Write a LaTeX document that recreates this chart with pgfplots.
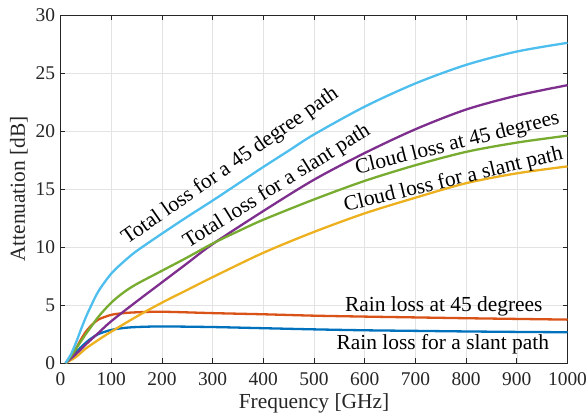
\documentclass[border=0pt]{standalone}
\usepackage{pgfplots}
\pgfplotsset{compat=1.18}
\usepackage{fontspec}
\setmainfont{Liberation Serif}
\definecolor{mblue}{rgb}{0,0.447,0.741}
\definecolor{mred}{rgb}{0.85,0.325,0.098}
\definecolor{myellow}{rgb}{0.929,0.694,0.125}
\definecolor{mpurple}{rgb}{0.494,0.184,0.556}
\definecolor{mgreen}{rgb}{0.466,0.674,0.188}
\definecolor{mcyan}{rgb}{0.301,0.745,0.933}
\definecolor{axgray}{rgb}{0.15,0.15,0.15}
\newcommand{\lbl}{\fontsize{21.5}{24}\selectfont}
\begin{document}
\begin{tikzpicture}
\begin{axis}[
  at={(0,0)}, anchor=south west,
  width=507bp, height=348bp, scale only axis,
  xmin=0, xmax=1000, ymin=0, ymax=30,
  xtick={0,100,...,1000}, ytick={0,5,...,30},
  grid=major, major grid style={color=black!11, line width=0.6bp},
  axis line style={color=axgray, line width=0.9bp},
  tick style={color=axgray, line width=0.7bp},
  major tick length=5bp,
  tick pos=both,
  tick align=inside,
  /pgf/number format/assume math mode=true,
  /pgf/number format/1000 sep={},
  ticklabel style={font=\fontsize{19.5}{22}\selectfont, text=axgray},
  xticklabel style={yshift=-6bp},
  yticklabel style={xshift=-2bp},
  xlabel={Frequency [GHz]}, ylabel={Attenuation [dB]},
  label style={font=\lbl, text=axgray},
  xlabel style={yshift=-1bp},
  ylabel style={yshift=1bp},
  every axis plot/.append style={line width=2.3bp, smooth},
  clip=true,
]
% Rain loss for a slant path
\addplot[mblue] coordinates {(10,0) (20,0.4) (30,0.9) (40,1.35) (50,1.75) (60,2.1) (75,2.5) (100,2.85) (125,3.02) (150,3.1) (200,3.15) (300,3.1) (400,3.0) (500,2.9) (600,2.82) (700,2.77) (800,2.72) (900,2.68) (1000,2.65)};
% Rain loss at 45 degrees
\addplot[mred] coordinates {(10,0) (20,0.5) (30,1.2) (40,2.0) (50,2.7) (60,3.2) (75,3.75) (100,4.15) (125,4.3) (150,4.37) (200,4.42) (300,4.3) (400,4.2) (500,4.08) (600,4.0) (700,3.93) (800,3.86) (900,3.8) (1000,3.74)};
% Cloud loss for a slant path
\addplot[myellow] coordinates {(10,0) (30,0.5) (50,1.25) (75,2.0) (100,2.7) (150,4.0) (200,5.2) (250,6.3) (300,7.4) (400,9.5) (500,11.3) (600,12.9) (700,14.25) (800,15.5) (900,16.35) (1000,16.95)};
% Total loss for a slant path
\addplot[mpurple] coordinates {(10,0) (30,0.75) (50,1.6) (75,2.6) (100,3.6) (150,5.3) (200,6.95) (250,8.6) (300,10.25) (400,13.1) (500,15.8) (600,18.1) (700,20.15) (800,21.85) (900,23.05) (1000,23.95)};
% Cloud loss at 45 degrees
\addplot[mgreen] coordinates {(10,0) (20,0.55) (30,1.2) (40,1.85) (50,2.5) (60,3.1) (75,4.0) (100,5.2) (125,6.1) (150,6.8) (200,7.95) (250,9.1) (300,10.3) (350,11.35) (400,12.35) (500,14.1) (600,15.7) (700,17.05) (800,18.2) (900,19.0) (1000,19.6)};
% Total loss for a 45 degree path
\addplot[mcyan] coordinates {(10,0) (20,0.7) (30,1.7) (40,2.85) (50,3.95) (60,4.9) (75,6.2) (100,7.7) (125,8.75) (150,9.65) (200,11.15) (250,12.6) (300,14.0) (350,15.45) (400,16.9) (450,18.3) (500,19.7) (600,22.1) (700,24.1) (800,25.7) (900,26.85) (1000,27.6)};
% labels
\node[rotate=35, font=\lbl] at (axis cs:335,16.95) {Total loss for a 45 degree path};
\node[rotate=32, font=\lbl] at (axis cs:427,15.2) {Total loss for a slant path};
\node[rotate=14, font=\lbl] at (axis cs:783,18.9) {Cloud loss at 45 degrees};
\node[rotate=13.5, font=\lbl] at (axis cs:775,15.75) {Cloud loss for a slant path};
\node[font=\lbl] at (axis cs:756,4.85) {Rain loss at 45 degrees};
\node[font=\lbl] at (axis cs:754,1.6) {Rain loss for a slant path};
\end{axis}
\pgfresetboundingbox
\path[use as bounding box] (-60.5bp,-55bp) rectangle (527.5bp,363bp);
\end{tikzpicture}
\end{document}
